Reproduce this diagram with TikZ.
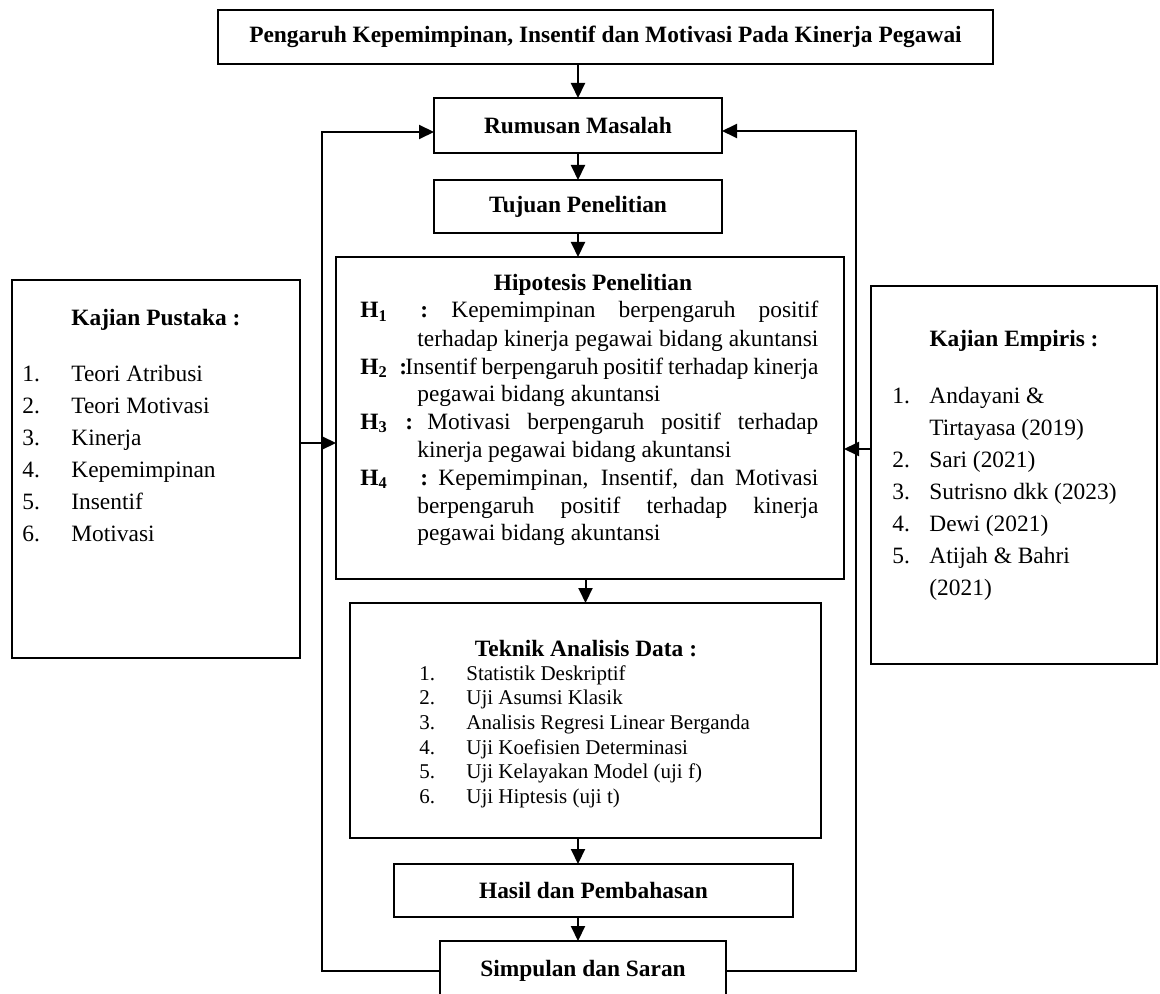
\documentclass[tikz,border=0pt]{standalone}
\usepackage{fontspec}
\setmainfont{Liberation Serif}
\usetikzlibrary{arrows.meta}
\newcommand{\isi}{\fontsize{11.7}{14}\selectfont}
\newcommand{\kecil}{\fontsize{10.5}{12}\selectfont}

\begin{document}
\begin{tikzpicture}[x=0.5pt,y=-0.5pt,
	box/.style={draw, line width=1pt, inner sep=0pt, outer sep=0pt, font=\isi\bfseries},
	arr/.style={line width=1pt, -{Triangle[length=7.5pt,width=7pt]}},
	txt/.style={inner sep=0pt, anchor=base west, font=\isi},
	tebal/.style={inner sep=0pt, anchor=base west, font=\isi\bfseries},
	head/.style={inner sep=0pt, anchor=base, font=\isi\bfseries},
	small/.style={inner sep=0pt, anchor=base west, font=\kecil}]
	\useasboundingbox (0,0) rectangle (1160,994);
	\clip (0,0) rectangle (1160,994);
		\node[box, minimum width=387.5pt, minimum height=27pt] (judul) at (605.5,37) {Pengaruh Kepemimpinan, Insentif dan Motivasi Pada Kinerja Pegawai};
		\node[box, minimum width=144pt, minimum height=27.5pt] (rumusan) at (578,125.5) {Rumusan Masalah};
		\node[box, minimum width=144pt, minimum height=26.5pt] (tujuan) at (578,206.5) {Tujuan Penelitian};
		\node[box, minimum width=254pt, minimum height=161pt] (hipotesis) at (590,418) {};
		\node[box, minimum width=235.5pt, minimum height=117.5pt] (teknik) at (585.5,720.5) {};
		\node[box, minimum width=199.5pt, minimum height=26.5pt] (hasil) at (593.5,890.5) {Hasil dan Pembahasan};
		\node[box, minimum width=143pt, minimum height=30pt] (simpulan) at (583,971) {Simpulan dan Saran};
		\node[box, minimum width=144pt, minimum height=189pt] (pustaka) at (156,469) {};
		\node[box, minimum width=143pt, minimum height=189pt] (empiris) at (1014,475) {};
		% kajian pustaka
		\node[head] (pusjudul) at (156,326) {Kajian Pustaka :};
		\foreach \i/\lbl in {1/Teori Atribusi, 2/Teori Motivasi, 3/Kinerja, 4/Kepemimpinan, 5/Insentif, 6/Motivasi}
		{
			\node[txt] (pn\i) at (22,{349+32*\i}) {\i.};
			\node[txt] (pt\i) at (71,{349+32*\i}) {\lbl};
		}
		% kajian empiris
		\node[head] (empjudul) at (1014,346) {Kajian Empiris :};
		\foreach \y/\n/\lbl [count=\k] in {403/1./Andayani \&, 435//Tirtayasa (2019), 467/2./Sari (2021), 499/3./Sutrisno dkk (2023), 531/4./Dewi (2021), 563/5./Atijah \& Bahri, 595//(2021)}
		{
			\node[txt] (en\k) at (892,\y) {\n};
			\node[txt] (et\k) at (929,\y) {\lbl};
		}
		% hipotesis
		\node[head] (hipjudul) at (593,291) {Hipotesis Penelitian};
		\node[tebal] (h1) at (360,318) {H\textsubscript{1}};
		\node[tebal] (k1) at (420,318) {:};
		\node[txt] (h1a) at (451,318) {\makebox[183.5pt][s]{Kepemimpinan berpengaruh positif}};
		\node[txt] (h1b) at (417,346) {\makebox[200.5pt][s]{terhadap kinerja pegawai bidang akuntansi}};
		\node[tebal] (h2) at (360,374) {H\textsubscript{2}};
		\node[tebal] (k2) at (399,374) {:};
		\node[txt] (h2a) at (405,374) {\makebox[206.5pt][s]{Insentif berpengaruh positif terhadap kinerja}};
		\node[txt] (h2b) at (417,401) {pegawai bidang akuntansi};
		\node[tebal] (h3) at (360,429) {H\textsubscript{3}};
		\node[tebal] (k3) at (405,429) {:};
		\node[txt] (h3a) at (427,429) {\makebox[195.5pt][s]{Motivasi berpengaruh positif terhadap}};
		\node[txt] (h3b) at (417,457) {kinerja pegawai bidang akuntansi};
		\node[tebal] (h4) at (360,485) {H\textsubscript{4}};
		\node[tebal] (k4) at (420,485) {:};
		\node[txt] (h4a) at (438,485) {\makebox[190pt][s]{Kepemimpinan, Insentif, dan Motivasi}};
		\node[txt] (h4b) at (417,513) {\makebox[200.5pt][s]{berpengaruh positif terhadap kinerja}};
		\node[txt] (h4c) at (417,540) {pegawai bidang akuntansi};
		% teknik analisis
		\node[head] (tekjudul) at (586,656) {Teknik Analisis Data :};
		\foreach \i/\lbl in {1/Statistik Deskriptif, 2/Uji Asumsi Klasik, 3/Analisis Regresi Linear Berganda, 4/Uji Koefisien Determinasi, 5/Uji Kelayakan Model (uji f), 6/Uji Hiptesis (uji t)}
		{
			\node[small] (tn\i) at (419,{655.3+24.7*\i}) {\i.};
			\node[small] (tt\i) at (466,{655.3+24.7*\i}) {\lbl};
		}
		% alur
		\draw[arr] (rumusan.north |- judul.south) -- (rumusan.north);
		\draw[arr] (rumusan) -- (tujuan);
		\draw[arr] (tujuan.south) -- (tujuan.south |- hipotesis.north);
		\draw[arr] (teknik.north |- hipotesis.south) -- (teknik.north);
		\draw[arr] (tujuan.south |- teknik.south) -- (tujuan.south |- hasil.north);
		\draw[arr] (tujuan.south |- hasil.south) -- (tujuan.south |- simpulan.north);
		\coordinate (kiri) at (322,132);
		\coordinate (kanan) at (856,131);
		\draw[arr] (simpulan.west) -| (kiri) -- (kiri -| rumusan.west);
		\draw[arr] (simpulan.east) -| (kanan) -- (kanan -| rumusan.east);
		\coordinate (pkanan) at ([yshift=13pt]pustaka.east);
		\coordinate (ekiri) at ([yshift=13pt]empiris.west);
		\draw[arr] (pkanan) -- (pkanan -| hipotesis.west);
		\draw[arr] (ekiri) -- (ekiri -| hipotesis.east);
\end{tikzpicture}
\end{document}
